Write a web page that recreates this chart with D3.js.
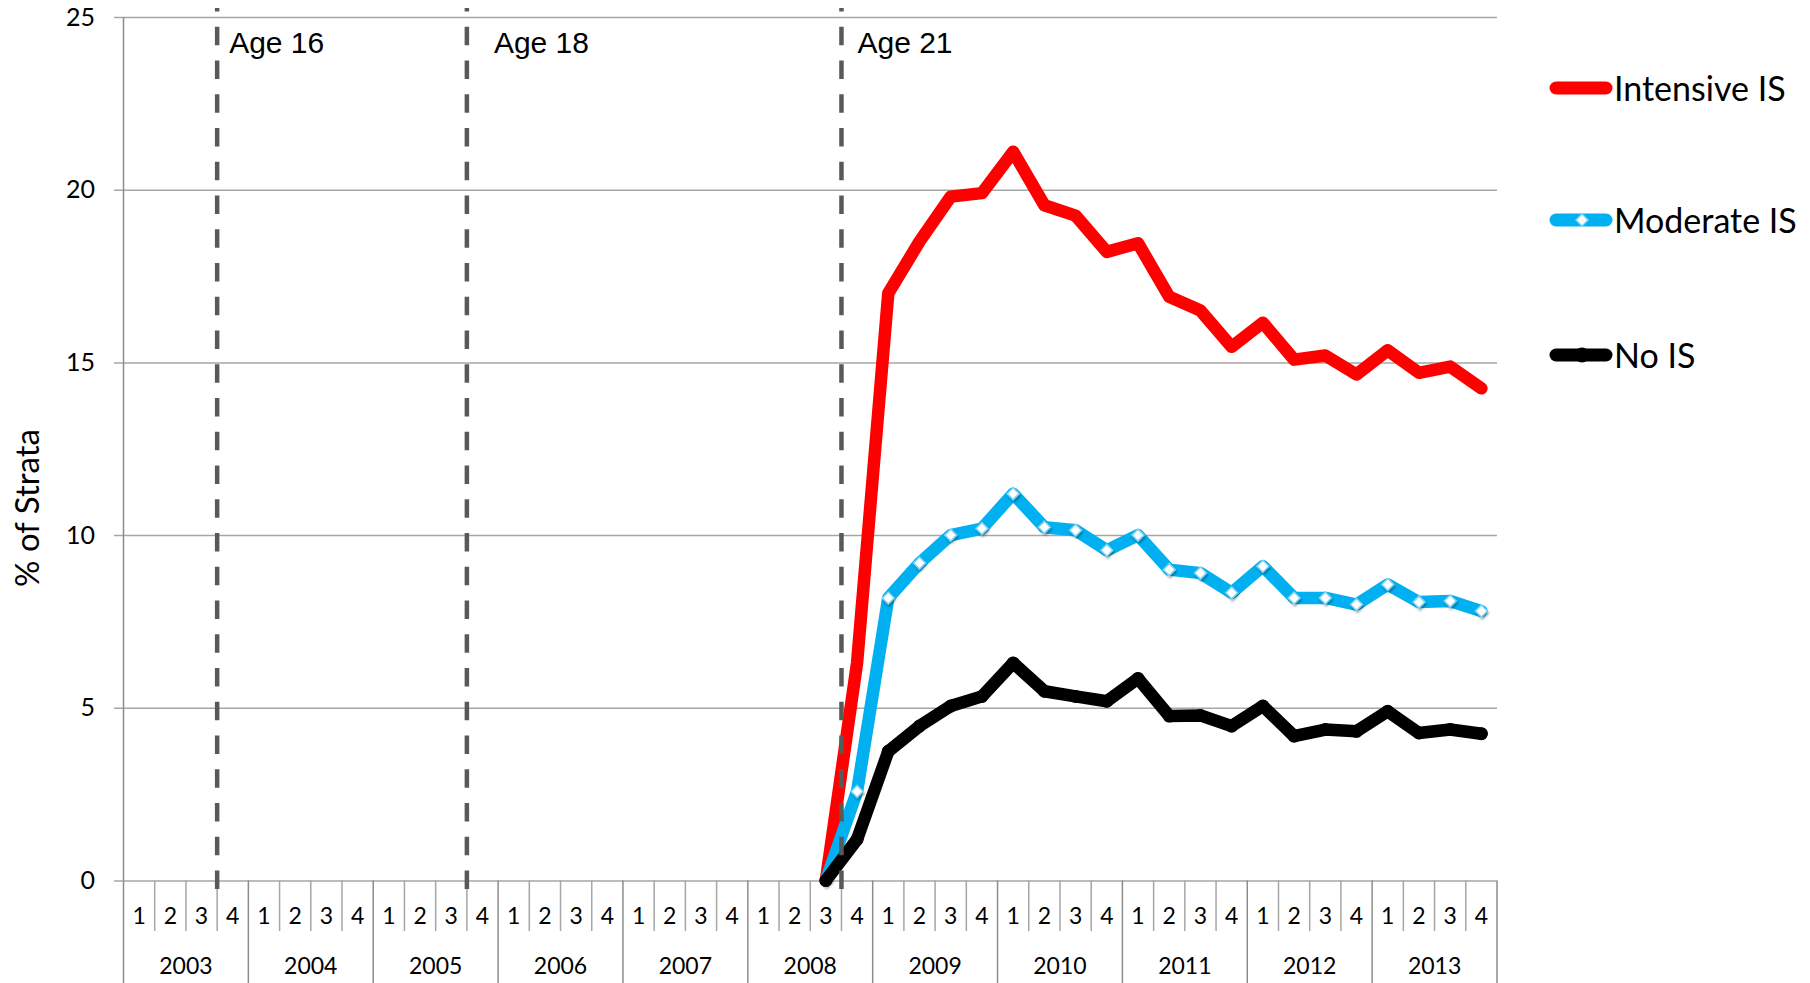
<!DOCTYPE html>
<html>
<head>
<meta charset="utf-8">
<script src="https://cdn.jsdelivr.net/npm/d3@7"></script>
<style>
  body { margin: 0; background: #fff; }
  svg { display: block; }
  text { font-family: Lato, "Open Sans", sans-serif; fill: #000; }
</style>
</head>
<body>
<script>
// quarters on the category axis
var years = ["2003", "2004", "2005", "2006", "2007", "2008", "2009", "2010", "2011", "2012", "2013"];
var quarters = ["1", "2", "3", "4"];

// the series start in 2008 Q3 and run to 2013 Q4
var seriesStart = "2008-3";
var intensiveIS = [0, 6.3, 17.0, 18.5, 19.8, 19.9, 21.1, 19.55, 19.25, 18.2, 18.45, 16.9,
                   16.5, 15.45, 16.15, 15.08, 15.2, 14.65, 15.35, 14.7, 14.88, 14.25];
var moderateIS = [0, 2.58, 8.18, 9.19, 10.0, 10.19, 11.2, 10.23, 10.14, 9.56, 10.0, 9.0,
                  8.9, 8.33, 9.1, 8.18, 8.18, 7.99, 8.57, 8.06, 8.09, 7.8];
var noIS = [0, 1.19, 3.74, 4.47, 5.05, 5.33, 6.3, 5.48, 5.33, 5.19, 5.85, 4.76,
            4.78, 4.47, 5.05, 4.18, 4.37, 4.32, 4.9, 4.27, 4.37, 4.25];

var seriesNames = ["Intensive IS", "Moderate IS", "No IS"];

// age markers sit after these quarters
var ageLabels = ["Age 16", "Age 18", "Age 21"];
var ageAfter = ["2003-3", "2005-3", "2008-3"];

var yTicks = [0, 5, 10, 15, 20, 25];

document.addEventListener("DOMContentLoaded", function() {
    var width = 1810, height = 983;
    var left = 123.5, right = 1497, top = 17, bottom = 880.5;

    var keys = [];
    years.forEach(function(yr) {
        quarters.forEach(function(q) { keys.push(yr + "-" + q); });
    });
    var startIdx = keys.indexOf(seriesStart);

    var x = d3.scaleBand().domain(keys).range([left, right]).paddingInner(0).paddingOuter(0);
    var y = d3.scaleLinear().domain([0, 25]).range([bottom, top]);
    var cx = function(k) { return x(k) + x.bandwidth() / 2; };

    var svg = d3.select("body").append("svg")
        .attr("width", width)
        .attr("height", height);

    var defs = svg.append("defs");
    var f = defs.append("filter").attr("id", "shadow")
        .attr("x", "-50%").attr("y", "-50%").attr("width", "200%").attr("height", "200%");
    f.append("feDropShadow").attr("dx", 1).attr("dy", 2)
        .attr("stdDeviation", 1.2).attr("flood-color", "#000").attr("flood-opacity", 0.35);

    // gridlines and value labels
    var yAxis = d3.axisLeft(y)
        .tickValues(yTicks)
        .tickSize(right - 114)
        .tickPadding(19)
        .tickFormat(d3.format("d"));
    var gy = svg.append("g")
        .attr("transform", "translate(" + right + ",0)")
        .call(yAxis);
    gy.select(".domain").remove();
    gy.selectAll(".tick line").attr("stroke", "#a6a6a6").attr("stroke-width", 1.5);
    gy.selectAll(".tick text")
        .style("font-family", "Lato, sans-serif")
        .style("font-size", "25px")
        .attr("fill", "#000");

    // value axis line
    svg.append("line")
        .attr("x1", left).attr("x2", left)
        .attr("y1", top).attr("y2", bottom)
        .attr("stroke", "#8c8c8c").attr("stroke-width", 1.5);

    // category axis: quarter separators and year separators
    var cat = svg.append("g");
    keys.forEach(function(k, i) {
        if (i === 0) return;
        var isYear = i % 4 === 0;
        cat.append("line")
            .attr("x1", x(k)).attr("x2", x(k))
            .attr("y1", bottom).attr("y2", isYear ? height : 931)
            .attr("stroke", isYear ? "#8c8c8c" : "#a6a6a6")
            .attr("stroke-width", 1.5);
    });
    cat.append("line")
        .attr("x1", left).attr("x2", left)
        .attr("y1", bottom).attr("y2", height)
        .attr("stroke", "#8c8c8c").attr("stroke-width", 1.5);
    cat.append("line")
        .attr("x1", right).attr("x2", right)
        .attr("y1", bottom).attr("y2", height)
        .attr("stroke", "#8c8c8c").attr("stroke-width", 1.5);

    cat.selectAll("text.q")
        .data(keys)
        .enter().append("text")
          .attr("class", "q")
          .attr("x", function(d) { return cx(d); })
          .attr("y", 916)
          .attr("dy", "0.36em")
          .attr("text-anchor", "middle")
          .style("font-size", "23px")
          .text(function(d) { return d.split("-")[1]; });

    cat.selectAll("text.yr")
        .data(years)
        .enter().append("text")
          .attr("class", "yr")
          .attr("x", function(d) { return x(d + "-1") + x.bandwidth() * 2; })
          .attr("y", 966)
          .attr("dy", "0.36em")
          .attr("text-anchor", "middle")
          .style("font-size", "23px")
          .text(function(d) { return d; });

    // axis title
    svg.append("text")
        .attr("transform", "translate(39,508) rotate(-90)")
        .attr("text-anchor", "middle")
        .style("font-size", "33px")
        .text("% of Strata");

    // series
    var seriesKeys = keys.slice(startIdx, startIdx + intensiveIS.length);
    var colors = ["#ff0000", "#00b0f0", "#000000"];

    var line = d3.line()
        .x(function(d, i) { return cx(seriesKeys[i]); })
        .y(function(d) { return y(d); });

    function drawLine(vals, color) {
        svg.append("path")
            .datum(vals)
            .attr("class", "series")
            .attr("fill", "none")
            .attr("stroke", color)
            .attr("stroke-width", 12.5)
            .attr("stroke-linejoin", "round")
            .attr("stroke-linecap", "round")
            .attr("d", line);
    }

    var diamond = "M0,-6L6,0L0,6L-6,0Z";

    drawLine(intensiveIS, colors[0]);
    drawLine(moderateIS, colors[1]);

    // moderate markers (diamonds)
    svg.append("g").selectAll("path")
        .data(moderateIS)
        .enter().append("path")
          .attr("d", diamond)
          .attr("transform", function(d, i) {
              return "translate(" + cx(seriesKeys[i]) + "," + y(d) + ")";
          })
          .attr("fill", "#fff")
          .attr("stroke", "#7fd2f2")
          .attr("stroke-width", 1.5)
          .attr("filter", "url(#shadow)");

    drawLine(noIS, colors[2]);

    // no-IS markers (dots)
    svg.append("g").selectAll("circle")
        .data(noIS)
        .enter().append("circle")
          .attr("cx", function(d, i) { return cx(seriesKeys[i]); })
          .attr("cy", function(d) { return y(d); })
          .attr("r", 6.5)
          .attr("fill", "#000");

    // age marker lines, drawn over the series
    var labelDx = [12, 27, 16];
    ageAfter.forEach(function(k, i) {
        var xx = x(k) + x.bandwidth();
        svg.append("line")
            .attr("x1", xx).attr("x2", xx)
            .attr("y1", 8).attr("y2", 889)
            .attr("stroke", "#595959")
            .attr("stroke-width", 4.5)
            .attr("stroke-dasharray", "18.5,15.25")
            .attr("stroke-dashoffset", 15);
        svg.append("text")
            .attr("x", xx + labelDx[i])
            .attr("y", 53)
            .style("font-family", "'Liberation Sans', Arial, sans-serif")
            .style("font-size", "30px")
            .text(ageLabels[i]);
    });

    // legend
    var legendY = [88, 220, 355];
    var lg = svg.append("g");
    seriesNames.forEach(function(name, i) {
        lg.append("line")
            .attr("x1", 1556).attr("x2", 1606)
            .attr("y1", legendY[i]).attr("y2", legendY[i])
            .attr("stroke", colors[i])
            .attr("stroke-width", 13)
            .attr("stroke-linecap", "round");
        if (i === 1) {
            lg.append("path")
                .attr("d", diamond)
                .attr("transform", "translate(1582," + legendY[i] + ")")
                .attr("fill", "#fff")
                .attr("stroke", "#7fd2f2")
                .attr("stroke-width", 1.5);
        }
        if (i === 2) {
            lg.append("circle")
                .attr("cx", 1582).attr("cy", legendY[i]).attr("r", 7.5)
                .attr("fill", "#000");
        }
        lg.append("text")
            .attr("x", 1614)
            .attr("y", legendY[i] + 12.5)
            .style("font-size", "34px")
            .text(name);
    });
});
</script>
</body>
</html>
